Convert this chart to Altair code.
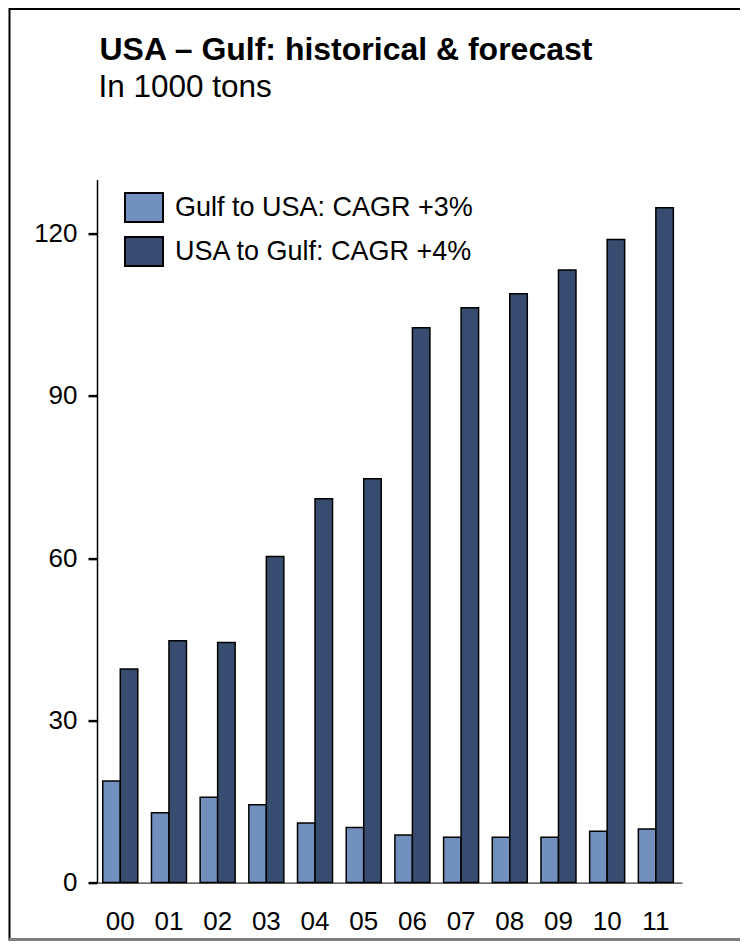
import altair as alt
import pandas as pd

years = ["00", "01", "02", "03", "04", "05", "06", "07", "08", "09", "10", "11"]
gulf_to_usa = [18.8, 12.9, 15.8, 14.4, 11.0, 10.2, 8.8, 8.4, 8.4, 8.4, 9.5, 9.9]
usa_to_gulf = [39.5, 44.7, 44.4, 60.3, 71.0, 74.7, 102.6, 106.3, 108.9, 113.3, 118.9, 124.8]
series_names = ["Gulf to USA: CAGR +3%", "USA to Gulf: CAGR +4%"]
series_colors = ["#7290BE", "#374C6E"]
y_ticks = [0, 30, 60, 90, 120]
title_text = "USA – Gulf: historical & forecast"
subtitle_text = "In 1000 tons"

rows = []
for i, yr in enumerate(years):
    rows.append({"year": yr, "series": series_names[0], "value": gulf_to_usa[i]})
    rows.append({"year": yr, "series": series_names[1], "value": usa_to_gulf[i]})
df = pd.DataFrame(rows)

FONT = "Liberation Sans"
W, H = 585, 703
PLOT_X, PLOT_Y = 97, 179.6          # page position of the plot area
PAD_L, PAD_T = PLOT_X - 8, PLOT_Y - 8
PAD_R, PAD_B = 58, 59
RIGHT_EDGE = PLOT_X + W + PAD_R
BOTTOM_EDGE = PLOT_Y + H + PAD_B    # page y of the svg's bottom edge

one = alt.InlineData(values=[{"k": 1}])

# page frame: open on the right (runs past the edge), grey shadow at the bottom
frame_box = alt.Chart(one).mark_rect(fill=None, stroke="black", strokeWidth=2).encode(
    x=alt.value(9.5 - PLOT_X), x2=alt.value(RIGHT_EDGE + 30 - PLOT_X),
    y=alt.value(9 - PLOT_Y), y2=alt.value(BOTTOM_EDGE - 2 - PLOT_Y),
)
frame_bottom = alt.Chart(one).mark_rule(color="#7f7f7f", strokeWidth=3).encode(
    y=alt.value(BOTTOM_EDGE - 2 - PLOT_Y), x=alt.value(8.5 - PLOT_X), x2=alt.value(RIGHT_EDGE + 30 - PLOT_X)
)

title_mark = alt.Chart(one).mark_text(
    align="left", baseline="alphabetic", font=FONT, fontSize=32, fontWeight="bold", color="black"
).encode(x=alt.value(99.5 - PLOT_X), y=alt.value(60 - PLOT_Y), text=alt.value(title_text))

subtitle_mark = alt.Chart(one).mark_text(
    align="left", baseline="alphabetic", font=FONT, fontSize=31.5, color="black"
).encode(x=alt.value(98.5 - PLOT_X), y=alt.value(97.5 - PLOT_Y), text=alt.value(subtitle_text))

bars = alt.Chart(df).mark_bar(stroke="black", strokeWidth=1.5).encode(
    x=alt.X(
        "year:N", sort=years, title=None,
        scale=alt.Scale(paddingInner=0.281, paddingOuter=0.148, align=0.4),
        axis=alt.Axis(labelAngle=0, ticks=False, domainColor="black", domainWidth=1,
                      labelFontSize=26, labelPadding=26, labelColor="black", labelFont=FONT),
    ),
    xOffset=alt.XOffset("series:N", sort=series_names,
                        scale=alt.Scale(paddingInner=0, paddingOuter=0)),
    y=alt.Y(
        "value:Q", title=None, scale=alt.Scale(domain=[0, 130], nice=False),
        axis=alt.Axis(values=y_ticks, grid=False, tickSize=9, tickWidth=2.5, tickColor="black",
                      domainColor="black", domainWidth=1.5, labelFontSize=26, labelPadding=11,
                      labelColor="black", labelFont=FONT),
    ),
    color=alt.Color(
        "series:N", sort=series_names,
        scale=alt.Scale(domain=series_names, range=series_colors),
        legend=alt.Legend(
            title=None, orient="none", legendX=27, legendY=8,
            symbolType="M-1,-0.763H1V0.763H-1Z", symbolSize=1444,
            symbolStrokeColor="black", symbolStrokeWidth=2, symbolOpacity=1,
            labelFontSize=27, labelFont=FONT, labelOffset=11, rowPadding=5,
            padding=0, labelColor="black", labelLimit=400,
        ),
    ),
)

chart = alt.layer(
    frame_box, frame_bottom, title_mark, subtitle_mark, bars
).properties(
    width=W, height=H,
    autosize="none",
    padding={"left": PAD_L, "top": PAD_T, "right": PAD_R, "bottom": PAD_B},
).configure(background="white").configure_view(stroke=None)

chart.save("out.html", embed_options={"renderer": "svg", "actions": False})
